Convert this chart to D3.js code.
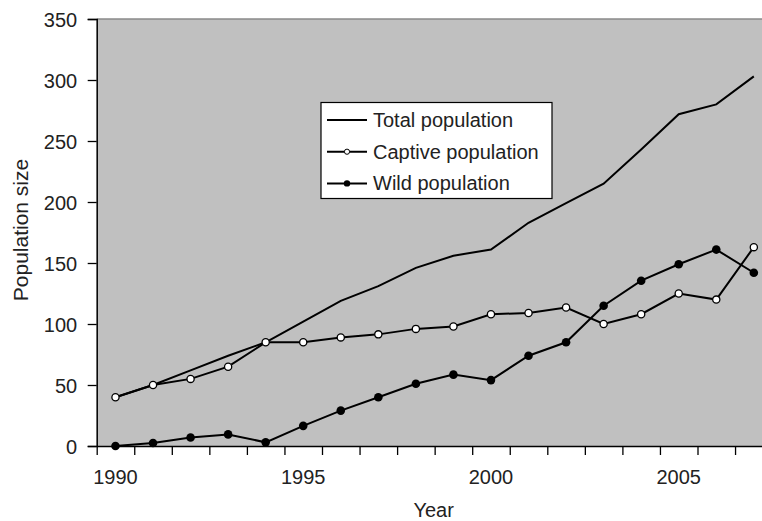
<!DOCTYPE html>
<html>
<head>
<meta charset="utf-8">
<script src="https://cdn.jsdelivr.net/npm/d3@7"></script>
<style>
  body { margin: 0; background: #fff; }
  svg text { font-family: "Liberation Sans", Arial, sans-serif; fill: #222; }
</style>
</head>
<body>
<svg id="chart"></svg>
<script>
var width = 762,
    height = 521;

// data
var years = [1990, 1991, 1992, 1993, 1994, 1995, 1996, 1997, 1998, 1999,
             2000, 2001, 2002, 2003, 2004, 2005, 2006, 2007];
var totalPop   = [40, 50, 62, 74, 85, 102, 119, 131, 146, 156, 161, 183, 199, 215, 243, 272, 280, 303];
var captivePop = [40, 50, 55, 65, 85, 85, 89, 91.5, 96, 98, 108, 109, 113.5, 100, 108, 125, 120, 163];
var wildPop    = [0, 2.5, 7, 9.5, 3, 16.5, 29, 40, 51, 58.5, 54, 74, 85, 115, 135.5, 149, 161, 142];
var yTicks = [0, 50, 100, 150, 200, 250, 300, 350];
var xLabels = [1990, 1995, 2000, 2005];
var legendNames = ['Total population', 'Captive population', 'Wild population'];

var plotLeft = 96.7, plotTop = 19, plotBottom = 446, band = 37.55;
var plotRight = plotLeft + band * years.length;

var svg = d3.select('#chart')
            .attr('width', width)
            .attr('height', height);

var x = d3.scaleLinear()
          .domain([years[0] - 0.5, years[years.length - 1] + 0.5])
          .range([plotLeft, plotRight]);
var y = d3.scaleLinear()
          .domain([0, 350])
          .range([plotBottom, plotTop]);

// plot background
svg.append('rect')
   .attr('x', plotLeft).attr('y', plotTop)
   .attr('width', plotRight - plotLeft).attr('height', plotBottom - plotTop)
   .attr('fill', '#c0c0c0');
svg.append('line')
   .attr('x1', plotLeft).attr('x2', plotRight)
   .attr('y1', plotTop).attr('y2', plotTop)
   .attr('stroke', '#8a8a8a').attr('stroke-width', 1.5);

// y axis
var yAxis = svg.append('g')
   .attr('transform', 'translate(' + plotLeft + ',0)')
   .call(d3.axisLeft(y).tickValues(yTicks).tickSize(9).tickPadding(10.5));
yAxis.select('.domain').attr('stroke', '#000').attr('stroke-width', 1.5);
yAxis.selectAll('.tick line').attr('stroke', '#000').attr('stroke-width', 1.3);
yAxis.selectAll('text').style('font-size', '20px').attr('dy', '0.35em');

// x axis: ticks between years, labels under every fifth year
var bounds = years.map(d => d - 0.5).concat([years[years.length - 1] + 0.5]);
var xAxis = svg.append('g')
   .attr('transform', 'translate(0,' + plotBottom + ')')
   .call(d3.axisBottom(x).tickValues(bounds).tickSize(9).tickFormat('').tickSizeOuter(0));
xAxis.select('.domain').attr('stroke', '#000').attr('stroke-width', 1.5);
xAxis.selectAll('.tick line').attr('stroke', '#000').attr('stroke-width', 1.3);

svg.append('g')
   .selectAll('text')
   .data(xLabels)
   .enter()
   .append('text')
     .attr('x', d => x(d))
     .attr('y', 484)
     .attr('text-anchor', 'middle')
     .style('font-size', '20px')
     .text(d => d);

svg.append('text')
   .attr('x', (plotLeft + plotRight) / 2 - 1)
   .attr('y', 517)
   .attr('text-anchor', 'middle')
   .style('font-size', '20px')
   .text('Year');

svg.append('text')
   .attr('transform', 'translate(28,' + 230 + ') rotate(-90)')
   .attr('text-anchor', 'middle')
   .style('font-size', '21px')
   .text('Population size');

// lines
var line = d3.line()
             .x((d, i) => x(years[i]))
             .y(d => y(d));

var series = [totalPop, captivePop, wildPop];
svg.selectAll('.series')
   .data(series)
   .enter()
   .append('path')
     .attr('class', 'series')
     .attr('d', line)
     .attr('fill', 'none')
     .attr('stroke', '#000')
     .attr('stroke-width', 2);

// markers
svg.selectAll('.captive')
   .data(captivePop)
   .enter()
   .append('circle')
     .attr('class', 'captive')
     .attr('cx', (d, i) => x(years[i]))
     .attr('cy', d => y(d))
     .attr('r', 3.6)
     .attr('fill', '#fff')
     .attr('stroke', '#000')
     .attr('stroke-width', 1.3);

svg.selectAll('.wild')
   .data(wildPop)
   .enter()
   .append('circle')
     .attr('class', 'wild')
     .attr('cx', (d, i) => x(years[i]))
     .attr('cy', d => y(d))
     .attr('r', 4.3)
     .attr('fill', '#000');

// legend
var legend = svg.append('g');
legend.append('rect')
      .attr('x', 321).attr('y', 102.5)
      .attr('width', 231).attr('height', 96)
      .attr('fill', '#fff')
      .attr('stroke', '#000')
      .attr('stroke-width', 1.2);

var rows = legend.selectAll('.row')
      .data(legendNames)
      .enter()
      .append('g')
        .attr('class', 'row')
        .attr('transform', (d, i) => 'translate(0,' + (120 + i * 31.7) + ')');

rows.append('line')
    .attr('x1', 327).attr('x2', 367)
    .attr('stroke', '#000').attr('stroke-width', 2);
rows.filter((d, i) => i === 1)
    .append('circle')
    .attr('cx', 347).attr('r', 2.6)
    .attr('fill', '#fff').attr('stroke', '#000').attr('stroke-width', 1);
rows.filter((d, i) => i === 2)
    .append('circle')
    .attr('cx', 347).attr('r', 3.2)
    .attr('fill', '#000');
rows.append('text')
    .attr('x', 373)
    .attr('y', 7)
    .style('font-size', '20px')
    .text(d => d);
</script>
</body>
</html>
